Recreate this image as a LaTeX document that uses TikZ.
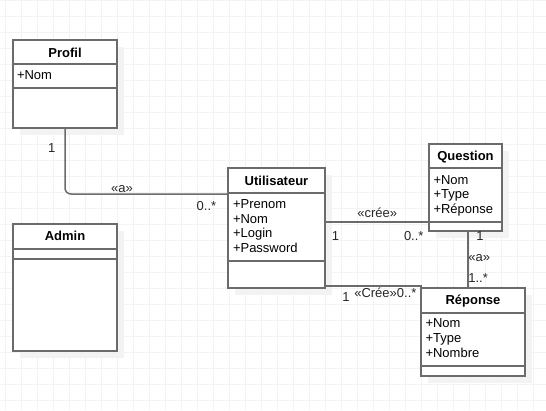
\documentclass[tikz,border=0pt]{standalone}
\usepackage{fontspec}
\setmainfont{Liberation Sans}
\usetikzlibrary{calc}
\definecolor{edgegray}{HTML}{6B6B6B}
\definecolor{gridgray}{HTML}{F3F3F3}
\definecolor{shadegray}{RGB}{243,243,243}
\pgfdeclarelayer{backdrop}
\pgfdeclarelayer{shades}
\pgfsetlayers{backdrop,shades,main}
\begin{document}
\begin{tikzpicture}[x=1pt,y=-1pt,
  every node/.style={inner sep=0pt,outer sep=0pt,font=\fontsize{13}{15}\selectfont},
  classbox/.style={draw=edgegray,line width=1.5pt,fill=white,anchor=north west},
  sep/.style={draw=edgegray,line width=1.5pt},
  assoc/.style={draw=edgegray,line width=1.5pt},
  title/.style={anchor=base,font=\fontsize{13}{15}\selectfont\bfseries},
  attr/.style={anchor=base west},
  lbl/.style={anchor=base west,text=black!85},
  boxshade/.style={fill=shadegray,draw=none},
]
% page and background grid
\useasboundingbox (0,0) rectangle (546,410);
\begin{pgfonlayer}{backdrop}
\fill[white] (0,0) rectangle (546,410);
\foreach \gx in {5,21,...,533} \draw[gridgray,line width=1pt] (\gx,0) -- (\gx,410);
\foreach \gy in {0,16,...,400} \draw[gridgray,line width=1pt] (0,\gy) -- (546,\gy);
\end{pgfonlayer}

% classes
\node[classbox,minimum width=104pt,minimum height=88pt] (profil) at (13,40) {};
\draw[sep] ($(profil.north west)+(0,24)$) -- ($(profil.north east)+(0,24)$);
\draw[sep] ($(profil.north west)+(0,48)$) -- ($(profil.north east)+(0,48)$);
\node[title] (profil-name) at (65,57.3) {Profil};
\node[attr] (profil-a1) at (17,79.3) {+Nom};

\node[classbox,minimum width=104pt,minimum height=127pt] (admin) at (13,224) {};
\draw[sep] ($(admin.north west)+(0,25)$) -- ($(admin.north east)+(0,25)$);
\draw[sep] ($(admin.north west)+(0,35)$) -- ($(admin.north east)+(0,35)$);
\node[title] (admin-name) at (65,240.7) {Admin};

\node[classbox,minimum width=97pt,minimum height=120pt] (util) at (228,168) {};
\draw[sep] ($(util.north west)+(0,25)$) -- ($(util.north east)+(0,25)$);
\draw[sep] ($(util.north west)+(0,93)$) -- ($(util.north east)+(0,93)$);
\node[title] (util-name) at (276.5,185.3) {Utilisateur};
\node[attr] (util-a1) at (233,208.3) {+Prenom};
\node[attr] (util-a2) at (233,223.3) {+Nom};
\node[attr] (util-a3) at (233,237.9) {+Login};
\node[attr] (util-a4) at (233,252.7) {+Password};

\node[classbox,minimum width=73pt,minimum height=87pt] (question) at (429,144) {};
\draw[sep] ($(question.north west)+(0,24)$) -- ($(question.north east)+(0,24)$);
\draw[sep] ($(question.north west)+(0,78)$) -- ($(question.north east)+(0,78)$);
\node[title] (question-name) at (465.5,160.7) {Question};
\node[attr] (question-a1) at (433.5,184) {+Nom};
\node[attr] (question-a2) at (433.5,198.7) {+Type};
\node[attr] (question-a3) at (433.5,213.3) {+Réponse};

\node[classbox,minimum width=104pt,minimum height=88pt] (reponse) at (421,288) {};
\draw[sep] ($(reponse.north west)+(0,25)$) -- ($(reponse.north east)+(0,25)$);
\draw[sep] ($(reponse.north west)+(0,78)$) -- ($(reponse.north east)+(0,78)$);
\node[title] (reponse-name) at (473,304.7) {Réponse};
\node[attr] (reponse-a1) at (425.5,327.3) {+Nom};
\node[attr] (reponse-a2) at (425.5,342.3) {+Type};
\node[attr] (reponse-a3) at (425.5,357.3) {+Nombre};

% soft shadows behind the class boxes
\begin{pgfonlayer}{shades}
\foreach \cls in {profil,admin,util,question,reponse}
  \path[boxshade] ($(\cls.north west)+(7,7)$) rectangle ($(\cls.south east)+(7,7)$);
\end{pgfonlayer}

% associations
\draw[assoc,rounded corners=6pt] (profil.south) |- ($(util.north west)+(0,26)$);
\draw[assoc] ($(util.north east)+(0,54)$) -- ($(question.north west)+(0,78)$);
\coordinate (qfoot) at ($(question.south west)+(39,0)$);
\draw[assoc] (qfoot) -- (qfoot |- reponse.north);
\coordinate (ufoot) at ($(util.south east)+(0,-2)$);
\draw[assoc] (ufoot) -- (ufoot -| reponse.north west) -- (reponse.north west);

% multiplicities and stereotypes
\node[lbl,anchor=base] (m-profil) at (51.7,152.7) {1};
\node[lbl,anchor=base] (s-a1) at (122,192) {«a»};
\node[lbl] (m-util1) at (196.7,210.7) {0..*};
\node[lbl] (s-cree1) at (357.3,217.3) {«crée»};
\node[lbl,anchor=base] (m-util2) at (335.5,240) {1};
\node[lbl] (m-question1) at (404,240) {0..*};
\node[lbl,anchor=base] (m-question2) at (480,240) {1};
\node[lbl] (s-a2) at (468.3,261.7) {«a»};
\node[lbl] (m-reponse1) at (468.3,282.3) {1..*};
\node[lbl,anchor=base] (m-util3) at (346,301.7) {1};
\node[lbl] (s-cree2) at (354.3,297.3) {«Crée»0..*};
\end{tikzpicture}
\end{document}
